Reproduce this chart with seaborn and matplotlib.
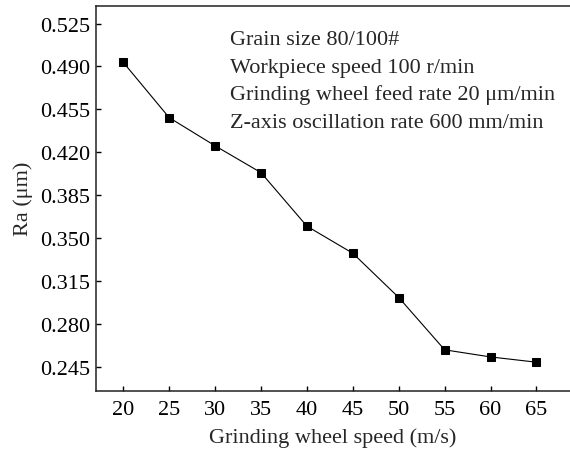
import matplotlib
matplotlib.use("Agg")
import matplotlib.pyplot as plt
import seaborn as sns
import pandas as pd

speed = [20, 25, 30, 35, 40, 45, 50, 55, 60, 65]
ra = [0.4933, 0.4482, 0.4252, 0.4033, 0.3596, 0.3375, 0.3014, 0.2587, 0.2529, 0.2486]
yticks = [0.245, 0.280, 0.315, 0.350, 0.385, 0.420, 0.455, 0.490, 0.525]
xticks = [20, 25, 30, 35, 40, 45, 50, 55, 60, 65]
notes = ["Grain size 80/100#", "Workpiece speed 100 r/min",
         "Grinding wheel feed rate 20 \u03bcm/min", "Z-axis oscillation rate 600 mm/min"]

sns.set_style("ticks")
plt.rcParams['font.family'] = ['Liberation Serif', 'DejaVu Serif']

df = pd.DataFrame({"speed": speed, "ra": ra})

fig = plt.figure(figsize=(5.70, 4.52), dpi=100)
fig.patch.set_facecolor("white")
ax = fig.add_axes([96/570, 1-392/452, 1-96/570, (392-6.5)/452])
sns.lineplot(data=df, x="speed", y="ra", ax=ax, color="black", linewidth=0.8,
             marker="s", markersize=5.4, markeredgecolor="black", markerfacecolor="black")

ax.set_xlim(17.03, 68.65)
ax.set_ylim(0.2251, 0.5397)
ax.set_xticks(xticks)
ax.set_yticks(yticks)
ax.set_yticklabels([f"{v:.3f}" for v in yticks])
ax.tick_params(direction="in", length=3.5, width=1, labelsize=16, colors="black",
               right=False, top=False)
ax.tick_params(axis="x", pad=6.5)
ax.tick_params(axis="y", pad=4)
ax.set_xlabel("Grinding wheel speed (m/s)", fontsize=16, labelpad=6)
ax.set_ylabel("Ra (\u03bcm)", fontsize=16, labelpad=5)
for s in ["left", "bottom", "top"]:
    ax.spines[s].set_linewidth(1.1)
    ax.spines[s].set_color("#222222")
ax.spines["right"].set_visible(False)

for i, t in enumerate(notes):
    fig.text(230.5/570, 1-(45+27.7*i)/452, t, fontsize=16, va="baseline", ha="left")

fig.savefig("out.png", dpi=100, facecolor="white")
